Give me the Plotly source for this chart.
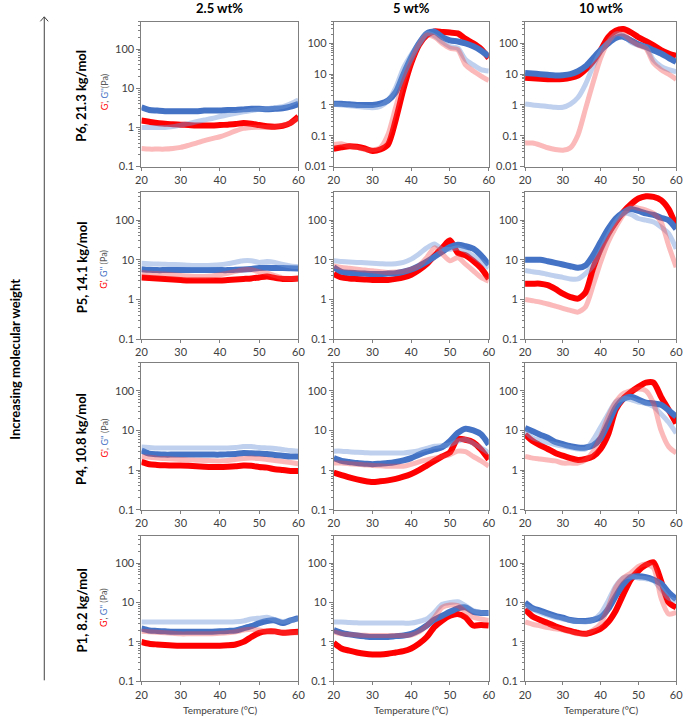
import plotly.graph_objects as go
from plotly.subplots import make_subplots

# ---------------- data ----------------
T = list(range(20, 61, 2))

row_labels = ["P6, 21.3 kg/mol", "P5, 14.1 kg/mol", "P4, 10.8 kg/mol", "P1, 8.2 kg/mol"]
col_labels = ["2.5 wt%", "5 wt%", "10 wt%"]
x_ticks = [20, 30, 40, 50, 60]

# P6, 21.3 kg/mol
p6_w25_gp = [1.5, 1.4, 1.3, 1.25, 1.2, 1.18, 1.15, 1.12, 1.12, 1.12, 1.15, 1.18, 1.22, 1.3, 1.25, 1.15, 1.08, 1.05, 1.1, 1.3, 1.9]
p6_w25_gpp = [3.3, 2.8, 2.7, 2.6, 2.6, 2.6, 2.6, 2.6, 2.7, 2.7, 2.7, 2.8, 2.8, 2.9, 3.0, 3.0, 2.9, 3.0, 3.1, 3.4, 4.0]
p6_w25_gp_b = [0.29, 0.28, 0.28, 0.28, 0.29, 0.31, 0.35, 0.40, 0.46, 0.52, 0.58, 0.68, 0.82, 0.95, 1.0, 1.02, 1.0, 1.05, 1.15, 1.3, 1.7]
p6_w25_gpp_b = [1.0, 1.0, 1.0, 1.0, 1.05, 1.15, 1.25, 1.4, 1.55, 1.7, 1.9, 2.1, 2.3, 2.5, 2.7, 2.9, 3.0, 3.2, 3.4, 4.0, 5.0]

p6_w5_gp = [0.038, 0.042, 0.046, 0.044, 0.039, 0.032, 0.036, 0.052, 0.33, 3.3, 23, 89, 184, 245, 235, 225, 210, 140, 100, 66, 33]
p6_w5_gpp = [1.1, 1.1, 1.05, 1.0, 1.0, 1.0, 1.1, 1.4, 2.6, 10, 35, 100, 210, 240, 160, 125, 115, 100, 80, 58, 38]
p6_w5_gp_b = [0.052, 0.055, 0.046, 0.042, 0.036, 0.035, 0.041, 0.11, 0.86, 6, 26, 90, 185, 160, 100, 70, 62, 20, 12.6, 8.7, 6.2]
p6_w5_gpp_b = [1.05, 1.0, 0.95, 0.9, 0.85, 0.82, 0.9, 1.4, 3.7, 16, 43, 100, 210, 175, 113, 78, 70, 30, 20, 14, 12.6]

p6_w10_gp = [7.6, 7.3, 7.1, 6.9, 6.8, 7.0, 7.6, 9, 14, 26, 60, 160, 257, 290, 228, 158, 118, 86, 60, 47, 39]
p6_w10_gpp = [11, 10.5, 10, 9.5, 9.1, 9.3, 10, 12.4, 18, 33, 60, 100, 150, 165, 125, 93, 77, 60, 47, 34, 25]
p6_w10_gp_b = [0.058, 0.058, 0.05, 0.041, 0.036, 0.034, 0.041, 0.107, 0.75, 5.3, 33, 110, 200, 200, 125, 87, 68, 23, 14, 10, 6.8]
p6_w10_gpp_b = [1.07, 1.0, 0.95, 0.9, 0.84, 0.84, 1.07, 1.75, 4.7, 18, 53, 110, 200, 180, 110, 87, 74, 29, 18, 14, 12]

# P5, 14.1 kg/mol
p5_w25_gp = [3.6, 3.5, 3.4, 3.3, 3.2, 3.1, 3.0, 3.0, 3.0, 3.0, 3.0, 3.1, 3.2, 3.3, 3.4, 3.6, 3.8, 3.5, 3.3, 3.3, 3.4]
p5_w25_gpp = [5.8, 5.6, 5.5, 5.5, 5.5, 5.5, 5.5, 5.5, 5.5, 5.5, 5.5, 5.5, 5.6, 5.7, 5.9, 6.2, 6.3, 6.2, 6.2, 6.1, 6.0]
p5_w25_gp_b = [4.8, 4.6, 4.5, 4.4, 4.2, 4.0, 3.9, 3.8, 3.8, 3.9, 4.2, 4.6, 5.1, 5.6, 5.6, 5.0, 4.6, 4.0, 3.5, 3.4, 3.4]
p5_w25_gpp_b = [8.2, 8.0, 7.8, 7.7, 7.6, 7.5, 7.3, 7.2, 7.2, 7.3, 7.5, 8.0, 8.7, 9.5, 9.5, 8.6, 9.0, 8.6, 7.6, 7.0, 6.7]

p5_w5_gp = [4.4, 3.6, 3.4, 3.3, 3.2, 3.1, 3.1, 3.1, 3.3, 3.6, 4.2, 5.5, 7.8, 12.6, 20, 31, 15, 13, 9.4, 6.2, 3.3]
p5_w5_gpp = [6.5, 5.0, 4.7, 4.6, 4.5, 4.4, 4.4, 4.5, 4.6, 5.0, 5.7, 7, 9, 12, 16, 21, 24, 22, 19, 13, 7.5]
p5_w5_gp_b = [7.0, 6.4, 6.1, 5.8, 5.5, 5.3, 5.0, 4.8, 4.9, 5.1, 5.8, 7.1, 11.4, 20, 14, 9.4, 11.4, 7.8, 5.3, 3.6, 2.9]
p5_w5_gpp_b = [9.5, 9.1, 8.8, 8.6, 8.4, 8.2, 8.0, 7.8, 8.0, 8.6, 10.4, 14, 20, 25, 18.5, 18.5, 20, 16.8, 12.6, 9.1, 6.2]

p5_w10_gp = [2.5, 2.5, 2.5, 2.3, 1.85, 1.4, 1.15, 1.05, 1.5, 6, 19, 45, 90, 160, 250, 350, 400, 385, 320, 190, 70]
p5_w10_gpp = [10, 10, 10, 9.2, 8.4, 7.6, 6.9, 6.3, 7.2, 12.9, 28, 60, 110, 155, 190, 170, 148, 135, 115, 100, 60]
p5_w10_gp_b = [1.0, 0.93, 0.86, 0.77, 0.68, 0.6, 0.53, 0.48, 0.65, 2.25, 8.7, 28, 66, 135, 215, 200, 180, 148, 90, 23, 6.5]
p5_w10_gpp_b = [5.4, 5.0, 4.7, 4.3, 3.9, 3.6, 3.3, 3.3, 4.5, 7.2, 17, 41, 90, 148, 140, 110, 100, 90, 67, 46, 19]

# P4, 10.8 kg/mol
p4_w25_gp = [1.6, 1.4, 1.35, 1.32, 1.3, 1.3, 1.28, 1.25, 1.22, 1.2, 1.2, 1.22, 1.25, 1.3, 1.28, 1.2, 1.15, 1.05, 1.0, 0.95, 0.95]
p4_w25_gpp = [3.1, 2.6, 2.5, 2.45, 2.45, 2.45, 2.45, 2.45, 2.45, 2.45, 2.45, 2.5, 2.55, 2.7, 2.65, 2.6, 2.55, 2.4, 2.3, 2.2, 2.2]
p4_w25_gp_b = [2.2, 2.1, 2.0, 1.95, 1.9, 1.85, 1.8, 1.78, 1.75, 1.72, 1.7, 1.75, 1.85, 1.95, 2.0, 1.95, 1.85, 1.75, 1.65, 1.55, 1.45]
p4_w25_gpp_b = [3.8, 3.7, 3.6, 3.6, 3.6, 3.6, 3.6, 3.6, 3.6, 3.6, 3.6, 3.6, 3.7, 3.9, 3.9, 3.7, 3.6, 3.5, 3.3, 3.1, 3.0]

p4_w5_gp = [0.86, 0.75, 0.65, 0.58, 0.53, 0.5, 0.52, 0.55, 0.6, 0.68, 0.8, 1.0, 1.3, 1.7, 2.2, 2.8, 6.1, 5.8, 5.0, 3.3, 1.85]
p4_w5_gpp = [2.0, 1.7, 1.6, 1.5, 1.45, 1.4, 1.45, 1.5, 1.6, 1.75, 2.0, 2.45, 2.9, 3.3, 3.8, 5.4, 8.6, 11, 10, 8, 4.4]
p4_w5_gp_b = [1.5, 1.5, 1.45, 1.4, 1.35, 1.3, 1.28, 1.25, 1.25, 1.25, 1.4, 1.6, 1.8, 2.0, 2.2, 2.45, 3.0, 2.9, 2.2, 1.7, 1.25]
p4_w5_gpp_b = [3.0, 3.0, 2.9, 2.8, 2.75, 2.7, 2.7, 2.7, 2.7, 2.7, 2.85, 3.1, 3.5, 4.0, 4.1, 4.4, 5.4, 5.9, 4.7, 3.6, 2.7]

p4_w10_gp = [7.9, 5.4, 4.2, 3.4, 2.7, 2.3, 2.0, 1.8, 1.9, 2.2, 3.4, 7.9, 33, 63, 92, 125, 160, 160, 70, 33, 15]
p4_w10_gpp = [11.5, 9.5, 7.8, 6.5, 5.1, 4.5, 4.0, 3.7, 3.7, 4.2, 6.3, 15, 38, 62, 70, 60, 50, 48, 44, 32, 22]
p4_w10_gp_b = [2.2, 2.0, 1.9, 1.8, 1.7, 1.5, 1.5, 1.5, 1.8, 2.9, 7, 22, 52, 85, 100, 110, 100, 48, 10, 3.9, 2.7]
p4_w10_gpp_b = [9.5, 6.5, 5.6, 4.9, 4.4, 4.0, 3.7, 3.4, 3.4, 5.7, 12, 26, 52, 63, 60, 52, 48, 40, 26, 16, 8.5]

# P1, 8.2 kg/mol
p1_w25_gp = [1.0, 0.9, 0.86, 0.83, 0.81, 0.8, 0.8, 0.8, 0.8, 0.8, 0.8, 0.82, 0.86, 1.0, 1.33, 1.7, 1.85, 1.85, 1.7, 1.75, 1.8]
p1_w25_gpp = [2.2, 1.95, 1.9, 1.85, 1.8, 1.8, 1.8, 1.8, 1.8, 1.82, 1.85, 1.9, 1.95, 2.2, 2.5, 3.0, 3.4, 3.5, 3.0, 3.5, 4.0]
p1_w25_gp_b = [1.85, 1.8, 1.75, 1.7, 1.65, 1.6, 1.6, 1.6, 1.6, 1.62, 1.65, 1.7, 1.8, 2.0, 2.1, 2.0, 1.85, 1.8, 1.75, 1.7, 1.7]
p1_w25_gpp_b = [3.2, 3.2, 3.2, 3.2, 3.2, 3.2, 3.2, 3.2, 3.2, 3.2, 3.2, 3.2, 3.25, 3.4, 3.8, 4.0, 4.2, 3.7, 3.3, 3.5, 3.9]

p1_w5_gp = [0.95, 0.68, 0.6, 0.54, 0.5, 0.48, 0.48, 0.5, 0.54, 0.58, 0.68, 0.9, 1.33, 2.4, 3.5, 4.6, 5.1, 4.2, 2.6, 2.7, 2.6]
p1_w5_gpp = [2.0, 1.7, 1.55, 1.45, 1.38, 1.33, 1.33, 1.33, 1.4, 1.45, 1.6, 1.95, 2.6, 3.7, 4.6, 5.8, 7.1, 7.5, 5.8, 5.4, 5.4]
p1_w5_gp_b = [1.8, 1.6, 1.55, 1.5, 1.47, 1.45, 1.45, 1.45, 1.45, 1.45, 1.5, 1.8, 2.6, 4.2, 7.5, 8.6, 8.3, 5.8, 4.2, 3.8, 3.5]
p1_w5_gpp_b = [3.2, 3.2, 3.1, 3.05, 3.0, 3.0, 3.0, 3.0, 3.0, 3.0, 3.0, 3.3, 3.8, 5.6, 9, 10, 10.4, 8.3, 6.2, 5.6, 5.4]

p1_w10_gp = [6.8, 4.4, 3.6, 3.0, 2.5, 2.15, 1.9, 1.7, 1.6, 1.8, 2.15, 3.2, 6.2, 16, 38, 64, 90, 105, 35, 10, 7.5]
p1_w10_gpp = [10, 7.2, 6.2, 5.3, 4.6, 4.1, 3.6, 3.4, 3.4, 3.6, 4.2, 6.8, 14.6, 29, 44, 46, 44, 38, 30, 18, 12]
p1_w10_gp_b = [3.2, 2.8, 2.55, 2.3, 2.15, 2.0, 1.8, 1.6, 1.6, 2.0, 2.9, 7.5, 24, 42, 56, 82, 94, 75, 13, 5.1, 5.6]
p1_w10_gpp_b = [8.3, 6.8, 5.6, 4.8, 4.2, 3.8, 3.5, 3.3, 3.2, 3.6, 5.2, 11, 26, 42, 46, 42, 40, 36, 22, 13, 11]

panels = [
    [(p6_w25_gp, p6_w25_gpp, p6_w25_gp_b, p6_w25_gpp_b),
     (p6_w5_gp, p6_w5_gpp, p6_w5_gp_b, p6_w5_gpp_b),
     (p6_w10_gp, p6_w10_gpp, p6_w10_gp_b, p6_w10_gpp_b)],
    [(p5_w25_gp, p5_w25_gpp, p5_w25_gp_b, p5_w25_gpp_b),
     (p5_w5_gp, p5_w5_gpp, p5_w5_gp_b, p5_w5_gpp_b),
     (p5_w10_gp, p5_w10_gpp, p5_w10_gp_b, p5_w10_gpp_b)],
    [(p4_w25_gp, p4_w25_gpp, p4_w25_gp_b, p4_w25_gpp_b),
     (p4_w5_gp, p4_w5_gpp, p4_w5_gp_b, p4_w5_gpp_b),
     (p4_w10_gp, p4_w10_gpp, p4_w10_gp_b, p4_w10_gpp_b)],
    [(p1_w25_gp, p1_w25_gpp, p1_w25_gp_b, p1_w25_gpp_b),
     (p1_w5_gp, p1_w5_gpp, p1_w5_gp_b, p1_w5_gpp_b),
     (p1_w10_gp, p1_w10_gpp, p1_w10_gp_b, p1_w10_gpp_b)],
]

# ---------------- layout helpers ----------------
W, H = 692, 724
def fx(x):
    return x / W
def fy(y):
    return 1 - y / H

col_px = [(138, 298), (334, 492), (529, 683)]
row_px = [(22, 168), (194, 342), (366, 514), (540, 687)]

RED = "#FF0000"
BLUE = "#4472C4"
RED_F = "rgba(245,70,70,0.38)"
BLUE_F = "rgba(110,150,215,0.45)"
FONT = "Lato, 'Liberation Sans', Arial, sans-serif"
TXT = "#404040"

fig = make_subplots(rows=4, cols=3)

minor_vals = [k * 10 ** e for e in range(-2, 3) for k in range(2, 10)]

for r in range(4):
    for c in range(3):
        gp, gpp, gp_b, gpp_b = panels[r][c]
        series = [
            (gp, RED, 6),
            (gpp, BLUE, 6),
            (gpp_b, BLUE_F, 5),
            (gp_b, RED_F, 5),
        ]
        for vals, col, w in series:
            fig.add_trace(
                go.Scatter(x=T, y=vals, mode="lines",
                           line=dict(color=col, width=w, shape="spline", smoothing=0.7),
                           showlegend=False, hoverinfo="skip"),
                row=r + 1, col=c + 1)
        idx = r * 3 + c + 1
        xa = "xaxis" if idx == 1 else f"xaxis{idx}"
        ya = "yaxis" if idx == 1 else f"yaxis{idx}"
        x0, x1 = col_px[c]
        y0, y1 = row_px[r]
        low = -2 if (r == 0 and c > 0) else -1
        tv = [0.01, 0.1, 1, 10, 100] if low == -2 else [0.1, 1, 10, 100]
        tt = ["0.01", "0.1", "1", "10", "100"] if low == -2 else ["0.1", "1", "10", "100"]
        fig.layout[xa].update(
            domain=[fx(x0), fx(x1)], range=[20, 60],
            tickmode="array", tickvals=x_ticks, ticktext=[str(v) for v in x_ticks],
            showline=True, mirror=True, linecolor="#7f7f7f", linewidth=1,
            ticks="outside", ticklen=3, tickcolor="#7f7f7f",
            showgrid=False, zeroline=False,
            tickfont=dict(family=FONT, size=11, color=TXT))
        fig.layout[ya].update(
            domain=[fy(y1), fy(y0)], type="log", range=[low, 2.699],
            tickmode="array", tickvals=tv, ticktext=tt,
            showline=True, mirror=True, linecolor="#7f7f7f", linewidth=1,
            ticks="outside", ticklen=4, tickcolor="#7f7f7f",
            minor=dict(tickvals=minor_vals, ticks="outside", ticklen=2, tickcolor="#7f7f7f", showgrid=False),
            showgrid=False, zeroline=False,
            tickfont=dict(family=FONT, size=11, color=TXT))

annotations = []
for c, lab in enumerate(col_labels):
    x0, x1 = col_px[c]
    annotations.append(dict(text="<b>%s</b>" % lab, x=fx((x0 + x1) / 2), y=fy(8),
                            xref="paper", yref="paper", showarrow=False,
                            xanchor="center", yanchor="middle",
                            font=dict(family=FONT, size=13, color="#000000")))
    annotations.append(dict(text="Temperature (°C)", x=fx((x0 + x1) / 2), y=fy(716),
                            xref="paper", yref="paper", showarrow=False,
                            xanchor="center", yanchor="middle",
                            font=dict(family=FONT, size=10, color=TXT)))

row_centers = [97, 270, 443, 616]
g_centers = [93, 272, 442, 613]
for r, lab in enumerate(row_labels):
    annotations.append(dict(text="<b>%s</b>" % lab, x=fx(77), y=fy(row_centers[r]),
                            xref="paper", yref="paper", showarrow=False, textangle=-90,
                            xanchor="center", yanchor="middle",
                            font=dict(family=FONT, size=13, color="#000000")))
    sep = "" if r == 0 else " "
    gtxt = ("<span style='color:#FF0000'>G'</span>, "
            "<span style='color:#4472C4'>G''</span>" + sep + "(Pa)")
    annotations.append(dict(text=gtxt, x=fx(100), y=fy(g_centers[r]),
                            xref="paper", yref="paper", showarrow=False, textangle=-90,
                            xanchor="center", yanchor="middle",
                            font=dict(family=FONT, size=9, color="#595959")))

annotations.append(dict(text="<b>Increasing molecular weight</b>", x=fx(9), y=fy(362),
                        xref="paper", yref="paper", showarrow=False, textangle=-90,
                        xanchor="center", yanchor="middle",
                        font=dict(family=FONT, size=13, color="#000000")))

shapes = [
    dict(type="line", xref="paper", yref="paper", x0=fx(39), x1=fx(39), y0=fy(686), y1=fy(17),
         line=dict(color="#404040", width=1)),
    dict(type="path", xref="paper", yref="paper",
         path="M %f,%f L %f,%f L %f,%f" % (fx(35), fy(21.5), fx(39), fy(17), fx(43), fy(21.5)),
         line=dict(color="#404040", width=1)),
]

fig.update_layout(
    width=W, height=H,
    margin=dict(l=0, r=0, t=0, b=0),
    paper_bgcolor="white", plot_bgcolor="white",
    showlegend=False,
    annotations=annotations,
    shapes=shapes,
    font=dict(family=FONT),
)

# remove the default 8px page margin so the figure fills the window exactly
fig.write_html("out.html",
               config={"displayModeBar": False},
               post_script="document.body.style.margin='0';document.body.style.overflow='hidden';")
